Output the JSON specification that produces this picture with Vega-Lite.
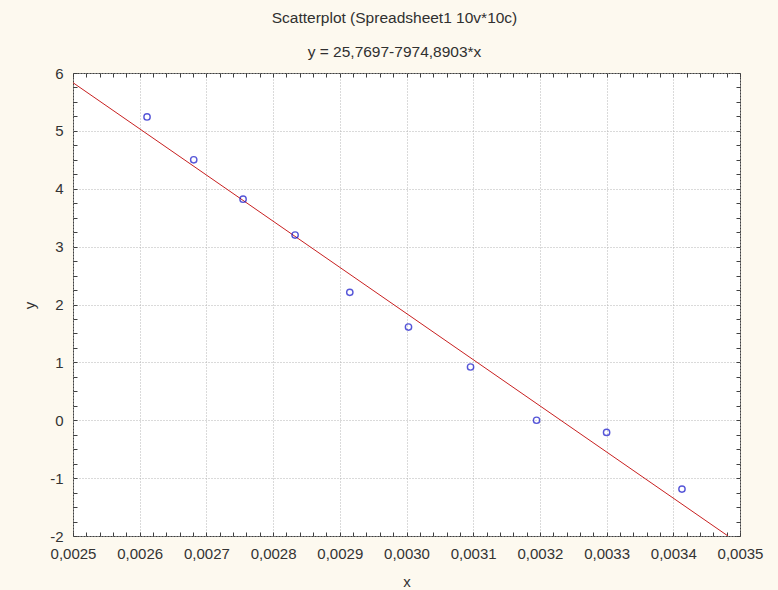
{
  "$schema": "https://vega.github.io/schema/vega-lite/v6.json",
  "width": 667,
  "height": 463,
  "autosize": {"type": "none"},
  "padding": {"left": 73, "top": 73, "right": 38, "bottom": 54},
  "background": "#FDF9EF",
  "config": {
    "view": {"fill": "white", "stroke": "#404040", "strokeWidth": 1},
    "font": "Liberation Sans"
  },
  "title": {
    "text": "Scatterplot (Spreadsheet1 10v*10c)",
    "subtitle": "y = 25,7697-7974,8903*x",
    "font": "Liberation Sans",
    "subtitleFont": "Liberation Sans",
    "fontSize": 15.5,
    "subtitleFontSize": 15.5,
    "fontWeight": "normal",
    "color": "#303030",
    "subtitleColor": "#303030",
    "anchor": "middle",
    "frame": "group",
    "dx": -12,
    "offset": 6,
    "subtitlePadding": 18
  },
  "datasets": {
    "points": [
      {"x": 0.002611, "y": 5.24},
      {"x": 0.002681, "y": 4.5},
      {"x": 0.002755, "y": 3.82},
      {"x": 0.002833, "y": 3.2},
      {"x": 0.002915, "y": 2.21},
      {"x": 0.003003, "y": 1.61},
      {"x": 0.003096, "y": 0.92},
      {"x": 0.003195, "y": 0.0},
      {"x": 0.0033, "y": -0.21},
      {"x": 0.003413, "y": -1.19}
    ],
    "fit": [
      {"x": 0.0025, "y": 5.8325},
      {"x": 0.003482, "y": -2.0}
    ]
  },
  "layer": [
    {
      "data": {"name": "fit"},
      "mark": {"type": "line", "color": "#C82020", "strokeWidth": 1, "clip": true},
      "encoding": {
        "x": {
          "field": "x", "type": "quantitative",
          "scale": {"domain": [0.0025, 0.0035], "nice": false, "zero": false},
          "axis": {
            "orient": "bottom",
            "title": "x",
            "titleFont": "Liberation Sans",
            "titleFontSize": 15,
            "titleFontWeight": "normal",
            "titleColor": "#333333",
            "titleBaseline": "alphabetic",
            "titleY": 50,
            "values": [0.0025,0.00252,0.00254,0.00256,0.00258,0.0026,0.00262,0.00264,0.00266,0.00268,0.0027,0.00272,0.00274,0.00276,0.00278,0.0028,0.00282,0.00284,0.00286,0.00288,0.0029,0.00292,0.00294,0.00296,0.00298,0.003,0.00302,0.00304,0.00306,0.00308,0.0031,0.00312,0.00314,0.00316,0.00318,0.0032,0.00322,0.00324,0.00326,0.00328,0.0033,0.00332,0.00334,0.00336,0.00338,0.0034,0.00342,0.00344,0.00346,0.00348,0.0035],
            "labelExpr": "abs(datum.value*10000 - round(datum.value*10000)) < 0.000001 ? replace(format(datum.value, '.4f'), '.', ',') : ''",
            "labelOverlap": false,
            "labelFlush": false,
            "labelFont": "Liberation Sans",
            "labelFontSize": 15,
            "labelColor": "#333333",
            "labelPadding": 14,
            "domain": false,
            "ticks": true,
            "tickSize": -4,
            "tickColor": "#404040",
            "grid": true,
            "gridColor": "#B4B4B4",
            "gridDash": [1, 2],
            "gridOpacity": {"condition": {"test": "abs(datum.value*10000 - round(datum.value*10000)) < 0.000001", "value": 1}, "value": 0}
          }
        },
        "y": {
          "field": "y", "type": "quantitative",
          "scale": {"domain": [-2, 6], "nice": false, "zero": false},
          "axis": {
            "orient": "left",
            "title": "y",
            "titleFont": "Liberation Sans",
            "titleFontSize": 15,
            "titleFontWeight": "normal",
            "titleColor": "#333333",
            "titleAngle": -90,
            "titleBaseline": "alphabetic",
            "titleAlign": "center",
            "titleX": -39,
            "titleY": 232,
            "values": [-2,-1.75,-1.5,-1.25,-1,-0.75,-0.5,-0.25,0,0.25,0.5,0.75,1,1.25,1.5,1.75,2,2.25,2.5,2.75,3,3.25,3.5,3.75,4,4.25,4.5,4.75,5,5.25,5.5,5.75,6],
            "labelExpr": "abs(datum.value - round(datum.value)) < 0.000001 ? '' + datum.value : ''",
            "labelOverlap": false,
            "labelFlush": false,
            "labelFont": "Liberation Sans",
            "labelFontSize": 15,
            "labelColor": "#333333",
            "labelPadding": 14,
            "domain": false,
            "ticks": true,
            "tickSize": -4,
            "tickColor": "#404040",
            "grid": true,
            "gridColor": "#B4B4B4",
            "gridDash": [1, 2],
            "gridOpacity": {"condition": {"test": "abs(datum.value - round(datum.value)) < 0.000001", "value": 1}, "value": 0}
          }
        }
      }
    },
    {
      "data": {"name": "points"},
      "mark": {"type": "point", "shape": "circle", "filled": false, "color": "#1010C8", "size": 40, "strokeWidth": 1.4},
      "encoding": {
        "x": {
          "field": "x", "type": "quantitative",
          "axis": {
            "orient": "top",
            "title": null,
            "labels": false,
            "domain": false,
            "grid": false,
            "ticks": true,
            "tickSize": -4,
            "tickColor": "#404040",
            "values": [0.0025,0.00252,0.00254,0.00256,0.00258,0.0026,0.00262,0.00264,0.00266,0.00268,0.0027,0.00272,0.00274,0.00276,0.00278,0.0028,0.00282,0.00284,0.00286,0.00288,0.0029,0.00292,0.00294,0.00296,0.00298,0.003,0.00302,0.00304,0.00306,0.00308,0.0031,0.00312,0.00314,0.00316,0.00318,0.0032,0.00322,0.00324,0.00326,0.00328,0.0033,0.00332,0.00334,0.00336,0.00338,0.0034,0.00342,0.00344,0.00346,0.00348,0.0035]
          }
        },
        "y": {
          "field": "y", "type": "quantitative",
          "axis": {
            "orient": "right",
            "title": null,
            "labels": false,
            "domain": false,
            "grid": false,
            "ticks": true,
            "tickSize": -4,
            "tickColor": "#404040",
            "values": [-2,-1.75,-1.5,-1.25,-1,-0.75,-0.5,-0.25,0,0.25,0.5,0.75,1,1.25,1.5,1.75,2,2.25,2.5,2.75,3,3.25,3.5,3.75,4,4.25,4.5,4.75,5,5.25,5.5,5.75,6]
          }
        }
      }
    }
  ],
  "resolve": {"axis": {"x": "independent", "y": "independent"}}
}
